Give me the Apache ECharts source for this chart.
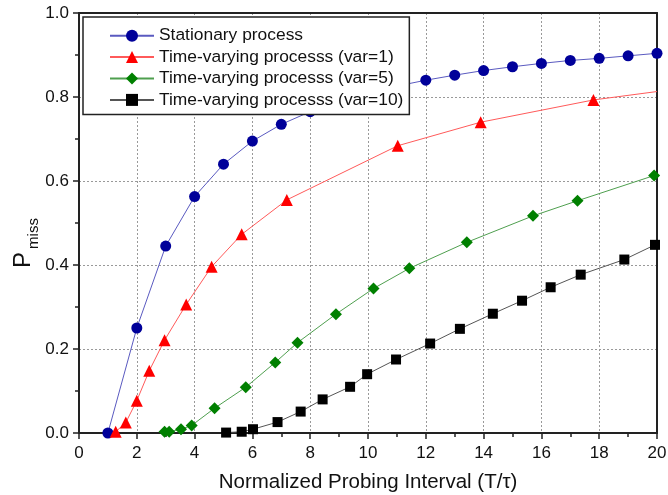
<!DOCTYPE html>
<html>
<head>
<meta charset="utf-8">
<script src="https://cdn.jsdelivr.net/npm/echarts@6/dist/echarts.min.js"></script>
<style>html,body{margin:0;padding:0;background:#fff}#c{width:668px;height:495px}</style>
</head>
<body>
<div id="c"></div>
<script>
var seriesNames = ['Stationary process','Time-varying processs (var=1)','Time-varying processs (var=5)','Time-varying processs (var=10)'];
var xTicks = [0,2,4,6,8,10,12,14,16,18,20];
var yTicks = ['0.0','0.2','0.4','0.6','0.8','1.0'];

var stationaryX = [1,2,3,4,5,6,7,8,9,10,11,12,13,14,15,16,17,18,19,20];
var stationaryY = [0.0,0.25,0.445,0.563,0.640,0.695,0.735,0.765,0.790,0.810,0.826,0.840,0.852,0.863,0.872,0.880,0.887,0.892,0.898,0.904];

var var1X = [1.27,1.62,2.0,2.43,2.96,3.71,4.59,5.63,7.19,11.03,13.9,17.8,20];
var var1Y = [0.003,0.025,0.077,0.148,0.221,0.306,0.396,0.473,0.555,0.684,0.740,0.793,0.813];

var var5X = [2.96,3.12,3.53,3.90,4.69,5.77,6.79,7.56,8.89,10.19,11.43,13.42,15.71,17.25,19.9];
var var5Y = [0.003,0.003,0.009,0.018,0.059,0.109,0.168,0.215,0.283,0.344,0.392,0.454,0.517,0.553,0.613];

var var10X = [5.09,5.63,6.02,6.87,7.67,8.43,9.38,9.97,10.97,12.15,13.18,14.32,15.33,16.32,17.36,18.87,19.93];
var var10Y = [0.001,0.003,0.009,0.026,0.051,0.080,0.110,0.140,0.175,0.213,0.248,0.284,0.315,0.347,0.377,0.413,0.448];

function pairs(xs, ys){ return xs.map(function(x,i){ return [x, ys[i]]; }); }

var FONT = '"Liberation Sans", Arial, sans-serif';
var chart = echarts.init(document.getElementById('c'), null, {renderer:'canvas'});

var var1Data = pairs(var1X, var1Y);
// last point is where the curve leaves the frame: no marker there
var1Data[var1Data.length-1] = {value: var1Data[var1Data.length-1], symbol: 'none'};

function mk(name, data, symbol, size, mcolor, lcolor){
  return {
    name: name, type: 'line', data: data, symbol: symbol, symbolSize: size,
    showAllSymbol: true, clip: true,
    itemStyle: {color: mcolor, borderColor: mcolor, borderWidth: 0},
    lineStyle: {color: lcolor, width: 1},
    emphasis: {disabled: true}, animation: false
  };
}

var option = {
  animation: false,
  textStyle: {fontFamily: FONT},
  grid: {left: 79, right: 11, top: 13, bottom: 62, show: false, containLabel: false, outerBoundsMode: 'none'},
  legend: {
    orient: 'vertical', left: 83, top: 17,
    data: seriesNames,
    backgroundColor: '#fff', borderColor: '#222', borderWidth: 1.5,
    padding: [10, 6, 6, 26], itemGap: 4,
    itemWidth: 44, itemHeight: 15,
    textStyle: {fontFamily: FONT, fontSize: 17.4, color: '#111', lineHeight: 17.4},
    z: 10
  },
  xAxis: [{
    type: 'value', min: 0, max: 20, interval: 2,
    name: 'Normalized Probing Interval (T/\u03c4)', nameLocation: 'middle', nameGap: 39,
    nameMoveOverlap: false,
    nameTextStyle: {fontFamily: FONT, fontSize: 20.5, color: '#111'},
    axisLine: {show: true, onZero: false, lineStyle: {color: '#222', width: 2}},
    axisTick: {show: true, inside: false, length: 6, lineStyle: {color: '#222', width: 1.5}},
    minorTick: {show: true, splitNumber: 2, length: 4, lineStyle: {color: '#222', width: 1.5}},
    axisLabel: {margin: 12, fontSize: 17, color: '#111', fontFamily: FONT,
      formatter: function(v){ return xTicks.indexOf(v) >= 0 ? String(v) : ''; }},
    splitLine: {show: true, lineStyle: {color: '#999', type: [2,2], width: 1}}
  },{
    type: 'value', min: 0, max: 20, interval: 2, position: 'top',
    axisLine: {show: true, onZero: false, lineStyle: {color: '#222', width: 2}},
    axisTick: {show: false}, axisLabel: {show: false}, splitLine: {show: false}
  }],
  yAxis: [{
    type: 'value', min: 0, max: 1, interval: 0.2,
    name: '{p|P}{s|miss}', nameLocation: 'middle', nameGap: 44, nameRotate: 90,
    nameMoveOverlap: false,
    nameTextStyle: {fontFamily: FONT, color: '#111', padding: [0, 40, 0, 0],
      rich: {p: {fontSize: 24, fontFamily: FONT, color: '#111', verticalAlign: 'bottom'},
             s: {fontSize: 15, fontFamily: FONT, color: '#111', verticalAlign: 'bottom', padding: [0,0,-6,3]}}},
    axisLine: {show: true, onZero: false, lineStyle: {color: '#222', width: 2}},
    axisTick: {show: true, inside: false, length: 6, lineStyle: {color: '#222', width: 1.5}},
    minorTick: {show: true, splitNumber: 2, length: 4, lineStyle: {color: '#222', width: 1.5}},
    axisLabel: {margin: 10, fontSize: 17, color: '#111', fontFamily: FONT,
      formatter: function(v){ return yTicks[Math.round(v/0.2)]; }},
    splitLine: {show: true, lineStyle: {color: '#999', type: [2,2], width: 1}}
  },{
    type: 'value', min: 0, max: 1, interval: 0.2, position: 'right',
    axisLine: {show: true, onZero: false, lineStyle: {color: '#222', width: 2}},
    axisTick: {show: false}, axisLabel: {show: false}, splitLine: {show: false}
  }],
  series: [
    mk(seriesNames[0], pairs(stationaryX, stationaryY), 'circle', 11, '#00009a', '#5a5ac0'),
    mk(seriesNames[1], var1Data, 'triangle', 12, '#ff0000', '#ff5a5a'),
    mk(seriesNames[2], pairs(var5X, var5Y), 'diamond', 12, '#008000', '#4f9f4f'),
    mk(seriesNames[3], pairs(var10X, var10Y), 'rect', 10, '#000000', '#555555')
  ]
};
chart.setOption(option);
</script>
</body>
</html>
